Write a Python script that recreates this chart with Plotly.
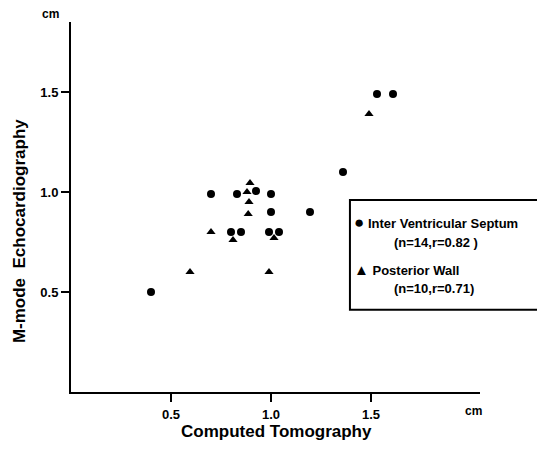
import plotly.graph_objects as go

# Inter Ventricular Septum (circles), n=14
ivs_ct = [0.40, 0.70, 0.83, 0.925, 1.00, 1.00, 0.80, 0.85, 0.99, 1.04, 1.195, 1.36, 1.53, 1.61]
ivs_echo = [0.50, 0.99, 0.99, 1.005, 0.99, 0.90, 0.80, 0.80, 0.80, 0.80, 0.90, 1.10, 1.49, 1.49]

# Posterior Wall (triangles), n=10
pw_ct = [0.595, 0.70, 0.81, 0.88, 0.895, 0.89, 0.886, 0.99, 1.015, 1.49]
pw_echo = [0.60, 0.80, 0.76, 1.00, 1.045, 0.95, 0.89, 0.60, 0.77, 1.39]

tick_vals = [0.5, 1.0, 1.5]
tick_text = ["0.5", "1.0", "1.5"]

FONT = "Liberation Sans, Arial, sans-serif"

fig = go.Figure()
fig.add_trace(go.Scatter(
    x=ivs_ct, y=ivs_echo, mode="markers", name="Inter Ventricular Septum",
    marker=dict(symbol="circle", size=8, color="black"),
))
fig.add_trace(go.Scatter(
    x=pw_ct, y=pw_echo, mode="markers", name="Posterior Wall",
    marker=dict(symbol="triangle-up", size=8, color="black"),
))

axis_common = dict(
    showgrid=False, zeroline=False, showline=True, linecolor="black", linewidth=2,
    ticks="outside", ticklen=8, tickwidth=1.5, tickcolor="black",
    tickvals=tick_vals, ticktext=tick_text,
    tickfont=dict(family=FONT, size=13, color="black", weight="bold"),
)
fig.update_xaxes(range=[0, 2.045], ticklabelstandoff=1, **axis_common)
fig.update_yaxes(range=[0, 1.85], **axis_common)

# legend box
fig.add_shape(type="rect", xref="paper", yref="paper",
              x0=0.682, x1=1.147, y0=0.222, y1=0.519,
              line=dict(color="black", width=2), fillcolor="white", layer="above")

def bold(txt):
    return "<b>" + txt + "</b>"

legend_lines = [
    ("<span style='font-size:17px'>●</span> Inter Ventricular Septum", 0.688, 0.459),
    ("(n=14,r=0.82 )", 0.785, 0.405),
    ("<span style='font-size:15px'>▲</span> Posterior Wall", 0.688, 0.332),
    ("(n=10,r=0.71)", 0.785, 0.281),
]
for txt, lx, ly in legend_lines:
    fig.add_annotation(text=bold(txt), x=lx, y=ly, xref="paper", yref="paper",
                       xanchor="left", yanchor="middle", showarrow=False,
                       font=dict(family=FONT, size=13, color="black"))

# unit labels
fig.add_annotation(text=bold("cm"), x=-0.051, y=1.022, xref="paper", yref="paper",
                   xanchor="center", yanchor="middle", showarrow=False,
                   font=dict(family=FONT, size=12, color="black"))
fig.add_annotation(text=bold("cm"), x=0.983, y=-0.052, xref="paper", yref="paper",
                   xanchor="center", yanchor="middle", showarrow=False,
                   font=dict(family=FONT, size=12, color="black"))

# axis titles
fig.add_annotation(text=bold("Computed Tomography"), x=0.502, y=-0.108, xref="paper", yref="paper",
                   xanchor="center", yanchor="middle", showarrow=False,
                   font=dict(family=FONT, size=17, color="black"))
fig.add_annotation(text=bold("M-mode&nbsp; Echocardiography"), x=-0.127, y=0.435, xref="paper", yref="paper",
                   xanchor="center", yanchor="middle", textangle=-90, showarrow=False,
                   font=dict(family=FONT, size=17, color="black"))

# page body has an 8px margin, so the figure is 8px smaller and margins shifted
fig.update_layout(
    width=537, height=441,
    margin=dict(l=63, r=65, t=14, b=57),
    paper_bgcolor="white", plot_bgcolor="white",
    showlegend=False,
)

fig.write_html("out.html")
